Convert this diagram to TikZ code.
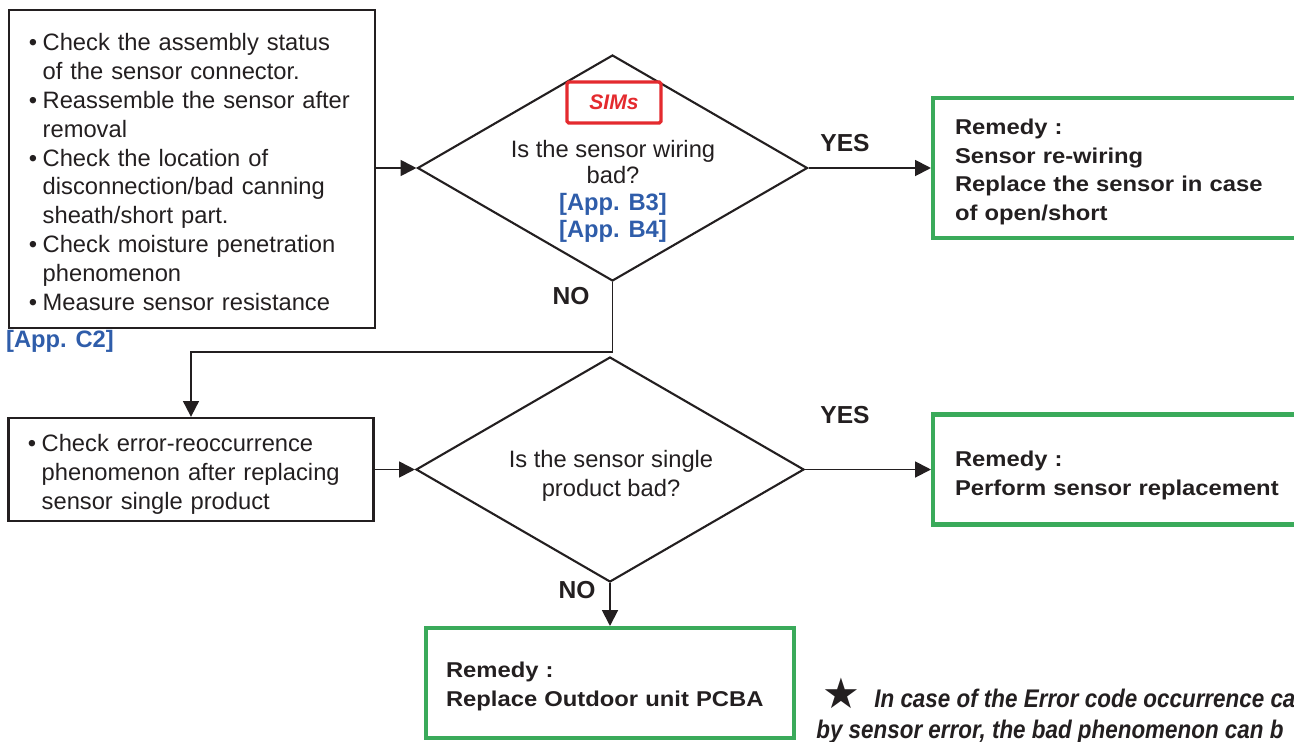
\documentclass[tikz,border=0pt]{standalone}
\usepackage{fontspec}
\setmainfont{Liberation Sans}
\newfontfamily\remfont[FakeStretch=1.11]{Liberation Sans}
\newfontfamily\notefont[FakeStretch=0.88]{Liberation Sans}
\newfontfamily\symfont{DejaVu Sans}
\usepackage{tikz}
\usetikzlibrary{calc,positioning,shapes.geometric,arrows.meta}
\definecolor{chkGreen}{HTML}{3AAA5A}
\definecolor{chkBlue}{HTML}{2F5DAA}
\definecolor{chkRed}{HTML}{E42A2E}
\definecolor{chkInk}{HTML}{231F20}
\newcommand\pu{0.02cm}
\newcommand\bul{\makebox[7.8pt][l]{\textbullet}}
\newcommand\ind{\hspace*{7.8pt}}
\newcommand\up[1]{\rule{0pt}{#1}}

\begin{document}
\begin{tikzpicture}[x=0.02cm,y=-0.02cm,
  box/.style={draw=chkInk,line width=1.3pt,inner sep=0,align=left,
              font=\fontsize{13.5}{16.4}\selectfont,text=chkInk},
  rem/.style={draw=chkGreen,line width=2.3pt,inner sep=0,align=left,
              font=\remfont\bfseries\fontsize{12.2}{16.2}\selectfont,text=chkInk},
  dia/.style={diamond,draw=chkInk,line width=1.2pt,inner sep=0,
              minimum width=390*\pu,minimum height=226*\pu},
  q/.style={align=center,font=\fontsize{13.5}{15.2}\selectfont,text=chkInk},
  lbl/.style={font=\bfseries\fontsize{14}{16}\selectfont,text=chkInk},
  app/.style={font=\bfseries\fontsize{13.5}{16}\selectfont,text=chkBlue},
  a/.style={-{Triangle[length=9pt,width=9pt]},line width=1.1pt,draw=chkInk}]
  \useasboundingbox (0,0) rectangle (1294,741);
  \clip (0,0) rectangle (1294,741);
  % first check: wiring
  \node[box,minimum width=366*\pu,minimum height=318*\pu,text width=326*\pu]
    (chk) at (192,169) {\up{13.3pt}\bul Check the assembly status\\
      \ind of the sensor connector.\\
      \bul Reassemble the sensor after\\
      \ind removal\\
      \bul Check the location of\\
      \ind disconnection/bad canning\\
      \ind sheath/short part.\\
      \bul Check moisture penetration\\
      \ind phenomenon\\
      \bul Measure sensor resistance};
  \node[app] (appc) at (60,341) {[App. C2]};
  \node[dia] (d1) at (612.5,168) {};
  \node[draw=chkRed,line width=1.9pt,rounded corners=1pt,minimum width=94*\pu,
        minimum height=41*\pu,text=chkRed,font=\bfseries\itshape\fontsize{12}{13}\selectfont]
    (sims) at (614,102.5) {SIMs};
  \node[q] (q1) at (613,191) {Is the sensor wiring\\bad?\\
    {\bfseries\color{chkBlue}[App. B3]}\\{\bfseries\color{chkBlue}[App. B4]}};
  \node[rem,minimum width=377*\pu,minimum height=140*\pu,text width=333*\pu]
    (rem1) at (1121.5,168) {\up{13.5pt}Remedy :\\Sensor re-wiring\\Replace the sensor in case\\of open/short};
  \node[lbl] (yes1) at (845,143) {YES};
  \node[lbl] (no1) at (571,296) {NO};
  % second check: single product
  \node[box,minimum width=365*\pu,minimum height=103*\pu,text width=326*\pu]
    (prod) at (191,469.5) {\up{15.6pt}\bul Check error-reoccurrence\\
      \ind phenomenon after replacing\\
      \ind sensor single product};
  \node[dia,minimum width=388*\pu,minimum height=225*\pu] (d2) at (610,469.5) {};
  \node[q,font=\fontsize{13.5}{16.4}\selectfont] (q2) at (611,476) {Is the sensor single\\product bad?};
  \node[rem,minimum width=377*\pu,minimum height=110*\pu,text width=333*\pu]
    (rem2) at (1121.5,469.5) {\up{15.5pt}Remedy :\\Perform sensor replacement};
  \node[lbl] (yes2) at (845,415) {YES};
  \node[lbl] (no2) at (577,590) {NO};
  \node[rem,minimum width=368*\pu,minimum height=110*\pu,text width=328*\pu]
    (rem3) at (610,683) {\up{12.5pt}Remedy :\\Replace Outdoor unit PCBA};
  % note
  \node[text=chkInk,font=\symfont\fontsize{24}{24}\selectfont] (star) at (841,693) {★};
  \node[anchor=base west,inner sep=0,text=chkInk,font=\notefont\bfseries\itshape\fontsize{14.5}{16}\selectfont]
    (note1) at (874,707) {In case of the Error code occurrence ca};
  \node[anchor=base west,inner sep=0,text=chkInk,font=\notefont\bfseries\itshape\fontsize{14.5}{16}\selectfont]
    (note2) at (816,738) {by sensor error, the bad phenomenon can b};
  % connectors
  \draw[a] (chk.east |- d1) -- (d1.west);
  \draw[a] (d1.east) -- (rem1.west);
  \draw[a] (d1.south) -- ++(0,70) -| (prod.north);
  \draw[a] (prod.east) -- (d2.west);
  \draw[a] (d2.east) -- (rem2.west);
  \draw[a] (d2.south) -- (rem3.north);
\end{tikzpicture}
\end{document}
